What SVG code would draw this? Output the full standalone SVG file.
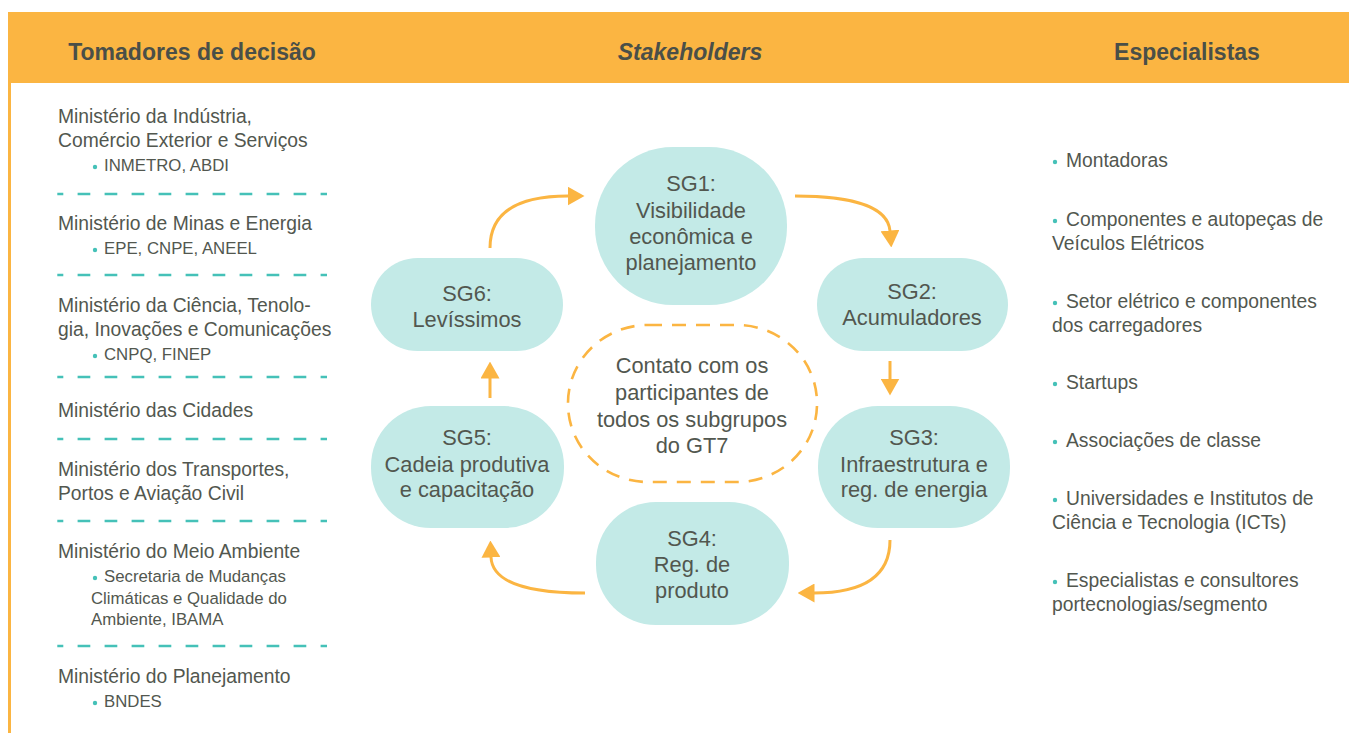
<svg xmlns="http://www.w3.org/2000/svg" width="1349" height="733" viewBox="0 0 1349 733">
<style>
text{font-family:"Liberation Sans",Arial,sans-serif;fill:#52574f}
.h{font-size:23px;font-weight:bold;fill:#4a4f48;text-anchor:middle}
.l{font-size:19.3px}
.s{font-size:16.8px}
.n{font-size:21.8px;text-anchor:middle}
.sep{stroke:#45c1b8;stroke-width:2.6;stroke-dasharray:12.7 14.3;stroke-dashoffset:6.7;fill:none}
.node{fill:#c3eae7}
.arr{stroke:#fbb542;stroke-width:3;fill:none;marker-end:url(#ah)}
.dot{fill:#45c1b8}
</style>
<defs>
<marker id="ah" markerUnits="userSpaceOnUse" markerWidth="17" markerHeight="19" viewBox="0 0 17 19" refX="0.5" refY="9.5" orient="auto">
<path d="M0,0 L17,9.5 L0,19 z" fill="#fbb542"/>
</marker>
</defs>
<rect width="1349" height="733" fill="#ffffff"/>
<g id="header">
<rect x="8" y="12" width="1341" height="71" fill="#fbb542"/>
<rect x="8" y="83" width="3" height="650" fill="#fbb542"/>
<text class="h" x="192" y="60">Tomadores de decisão</text>
<text class="h" x="690" y="60" font-style="italic">Stakeholders</text>
<text class="h" x="1187" y="60">Especialistas</text>
</g>
<g id="decisores">
<text class="l" x="58" y="123">Ministério da Indústria,</text>
<text class="l" x="58" y="147">Comércio Exterior e Serviços</text>
<circle class="dot" cx="95" cy="167" r="2.2"/>
<text class="s" x="104" y="171">INMETRO, ABDI</text>
<path class="sep" d="M57.3,194 H327"/>
<text class="l" x="58" y="230">Ministério de Minas e Energia</text>
<circle class="dot" cx="95" cy="250" r="2.2"/>
<text class="s" x="104" y="254">EPE, CNPE, ANEEL</text>
<path class="sep" d="M57.3,275 H327"/>
<text class="l" x="58" y="312">Ministério da Ciência, Tenolo-</text>
<text class="l" x="58" y="336">gia, Inovações e Comunicações</text>
<circle class="dot" cx="95" cy="356" r="2.2"/>
<text class="s" x="104" y="360">CNPQ, FINEP</text>
<path class="sep" d="M57.3,377 H327"/>
<text class="l" x="58" y="417">Ministério das Cidades</text>
<path class="sep" d="M57.3,439 H327"/>
<text class="l" x="58" y="476">Ministério dos Transportes,</text>
<text class="l" x="58" y="500">Portos e Aviação Civil</text>
<path class="sep" d="M57.3,521 H327"/>
<text class="l" x="58" y="558">Ministério do Meio Ambiente</text>
<circle class="dot" cx="95" cy="578" r="2.2"/>
<text class="s" x="104" y="582">Secretaria de Mudanças</text>
<text class="s" x="91" y="604">Climáticas e Qualidade do</text>
<text class="s" x="91" y="625">Ambiente, IBAMA</text>
<path class="sep" d="M57.3,646 H327"/>
<text class="l" x="58" y="683">Ministério do Planejamento</text>
<circle class="dot" cx="95" cy="703" r="2.2"/>
<text class="s" x="104" y="707">BNDES</text>
</g>
<g id="especialistas">
<circle class="dot" cx="1055" cy="162" r="2.2"/>
<text class="l" x="1066" y="167">Montadoras</text>
<circle class="dot" cx="1055" cy="221" r="2.2"/>
<text class="l" x="1066" y="226">Componentes e autopeças de</text>
<text class="l" x="1052" y="250">Veículos Elétricos</text>
<circle class="dot" cx="1055" cy="303" r="2.2"/>
<text class="l" x="1066" y="308">Setor elétrico e componentes</text>
<text class="l" x="1052" y="332">dos carregadores</text>
<circle class="dot" cx="1055" cy="384" r="2.2"/>
<text class="l" x="1066" y="389">Startups</text>
<circle class="dot" cx="1055" cy="442" r="2.2"/>
<text class="l" x="1066" y="447">Associações de classe</text>
<circle class="dot" cx="1055" cy="500" r="2.2"/>
<text class="l" x="1066" y="505">Universidades e Institutos de</text>
<text class="l" x="1052" y="529">Ciência e Tecnologia (ICTs)</text>
<circle class="dot" cx="1055" cy="582" r="2.2"/>
<text class="l" x="1066" y="587">Especialistas e consultores</text>
<text class="l" x="1052" y="611">portecnologias/segmento</text>
</g>
<g id="connectors">
<path class="arr" d="M490,248 C490,212 518,196 568,196"/>
<path class="arr" d="M795,196 C850,196 888,206 890,231"/>
<path class="arr" d="M890,361 L890,379"/>
<path class="arr" d="M890,540 C890,576 864,593 814,593"/>
<path class="arr" d="M585,593 C530,593 492,583 491,557"/>
<path class="arr" d="M490,398 L490,378"/>
</g>
<g id="centro">
<rect x="568" y="325" width="249" height="157" rx="80" ry="78" fill="none" stroke="#fbb542" stroke-width="2.6" stroke-dasharray="14 10"/>
<text class="n" x="692" y="373">Contato com os</text>
<text class="n" x="692" y="400">participantes de</text>
<text class="n" x="692" y="427">todos os subgrupos</text>
<text class="n" x="692" y="453">do GT7</text>
</g>
<g id="sg1">
<rect class="node" x="595" y="147" width="192" height="158" rx="78" ry="78"/>
<text class="n" x="691" y="191">SG1:</text>
<text class="n" x="691" y="218">Visibilidade</text>
<text class="n" x="691" y="244">econômica e</text>
<text class="n" x="691" y="270">planejamento</text>
</g>
<g id="sg2">
<rect class="node" x="817" y="258" width="191" height="93" rx="46.5"/>
<text class="n" x="912" y="299">SG2:</text>
<text class="n" x="912" y="325">Acumuladores</text>
</g>
<g id="sg3">
<rect class="node" x="818" y="406" width="192" height="122" rx="60"/>
<text class="n" x="914" y="445">SG3:</text>
<text class="n" x="914" y="472">Infraestrutura e</text>
<text class="n" x="914" y="497">reg. de energia</text>
</g>
<g id="sg4">
<rect class="node" x="596" y="502" width="193" height="123" rx="60"/>
<text class="n" x="692" y="546">SG4:</text>
<text class="n" x="692" y="572">Reg. de</text>
<text class="n" x="692" y="598">produto</text>
</g>
<g id="sg5">
<rect class="node" x="371" y="406" width="193" height="122" rx="60"/>
<text class="n" x="467" y="445">SG5:</text>
<text class="n" x="467" y="472">Cadeia produtiva</text>
<text class="n" x="467" y="497">e capacitação</text>
</g>
<g id="sg6">
<rect class="node" x="371" y="258" width="192" height="93" rx="46.5"/>
<text class="n" x="467" y="301">SG6:</text>
<text class="n" x="467" y="327">Levíssimos</text>
</g>
</svg>
